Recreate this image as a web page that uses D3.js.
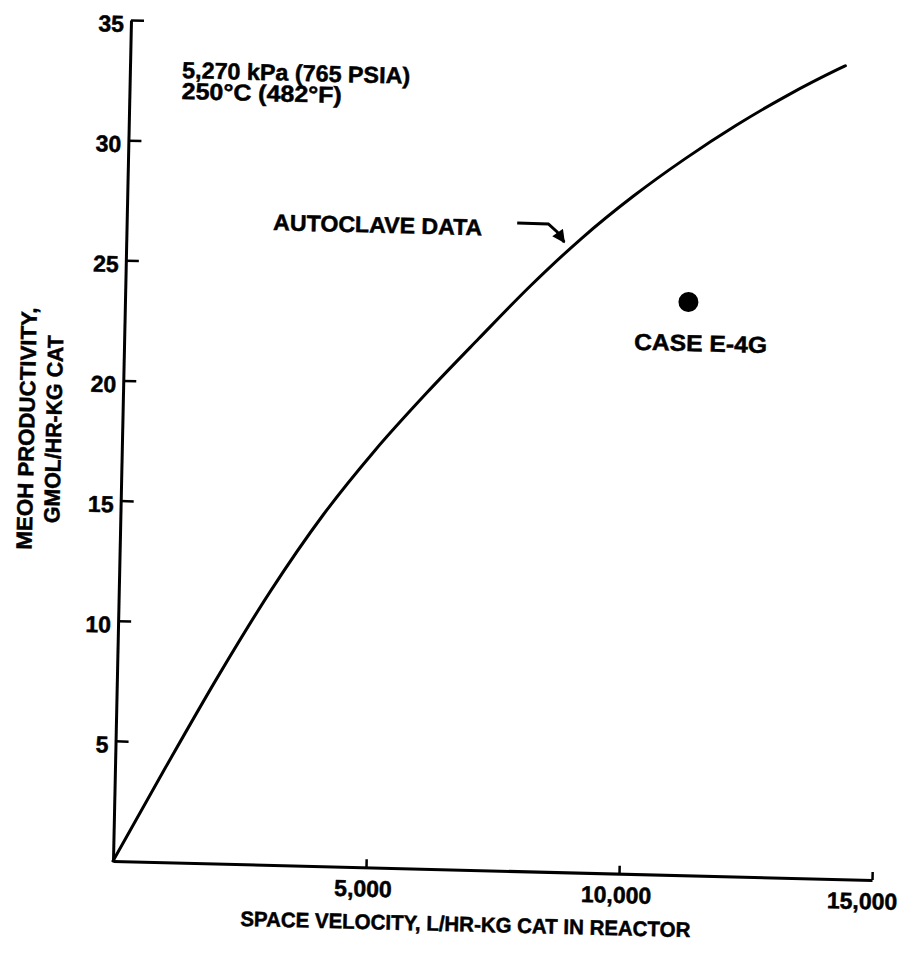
<!DOCTYPE html>
<html><head><meta charset="utf-8">
<script src="https://cdn.jsdelivr.net/npm/d3@7"></script>
<style>
body{margin:0;background:#fff;}
svg text{font-family:"Liberation Sans",Arial,Helvetica,sans-serif;font-weight:bold;fill:#000;stroke:#000;stroke-width:0.5px;}
</style></head><body>
<svg id="chart" width="900" height="962"></svg>
<script>
// ---- data ----
const curveX = [0, 1000, 2000, 3000, 4000, 5000, 6000, 7000, 8000, 9000, 10000, 11000, 12000, 13000, 14000, 14130];
const curveY = [0, 3.95, 7.8, 11.4, 14.6, 17.35, 19.8, 22.1, 24.35, 26.4, 28.2, 29.8, 31.25, 32.55, 33.7, 33.84];
const caseX = [11130];
const caseY = [23.85];
const caseLabel = ["CASE E-4G"];
const xTicks = [5000, 10000, 15000];
const yTicks = [5, 10, 15, 20, 25, 30, 35];
const conditionLines = ["5,270 kPa (765 PSIA)", "250°C (482°F)"];
const curveLabel = "AUTOCLAVE DATA";
const arrowX = [7714, 8330, 8508, 8651];
const arrowY = [26.96, 26.95, 26.63, 26.21];
const xTitle = "SPACE VELOCITY, L/HR-KG CAT IN REACTOR";
const yTitle = ["MEOH PRODUCTIVITY,", "GMOL/HR-KG CAT"];

// ---- layout ----
const W = 759, H = 841;
const x = d3.scaleLinear().domain([0, 15000]).range([0, W]);
const y = d3.scaleLinear().domain([0, 35]).range([0, -H]);

const svg = d3.select("#chart");
svg.append("rect").attr("width", 900).attr("height", 962).attr("fill", "#fff");
// slight skew as in the scanned original
const g = svg.append("g").attr("transform", "matrix(1,0.025,-0.0214,1,113,861)");

// y axis
const yAxis = g.append("g")
  .call(d3.axisLeft(y).tickValues(yTicks).tickSizeInner(-13).tickSizeOuter(0).tickPadding(7).tickFormat(d3.format("d")));
yAxis.attr("font-size", null).attr("font-family", null);
yAxis.select(".domain").attr("stroke", "#000").attr("stroke-width", 3);
yAxis.selectAll(".tick line").attr("stroke", "#000").attr("stroke-width", 2.5);
yAxis.selectAll(".tick text").attr("font-size", 23).attr("dy", "0.5em");

// x axis
const xAxis = g.append("g")
  .call(d3.axisBottom(x).tickValues(xTicks).tickSizeInner(-8).tickSizeOuter(0).tickPadding(13).tickFormat(d3.format(",")));
xAxis.attr("font-size", null).attr("font-family", null);
xAxis.select(".domain").attr("stroke", "#000").attr("stroke-width", 3);
xAxis.selectAll(".tick line").attr("stroke", "#000").attr("stroke-width", 2.5);
xAxis.selectAll(".tick text").attr("font-size", 23)
  .attr("dx", (d, i) => i === xTicks.length - 1 ? -10 : -3);

// curve
const pts = curveX.map((v, i) => [v, curveY[i]]);
g.append("path")
  .datum(pts)
  .attr("fill", "none")
  .attr("stroke", "#000")
  .attr("stroke-width", 3)
  .attr("stroke-linecap", "round")
  .attr("d", d3.line().x(d => x(d[0])).y(d => y(d[1])).curve(d3.curveMonotoneX));

// case point
const casePts = caseX.map((v, i) => ({x: v, y: caseY[i], label: caseLabel[i]}));
g.selectAll("circle.case").data(casePts).join("circle")
  .attr("class", "case")
  .attr("cx", d => x(d.x)).attr("cy", d => y(d.y)).attr("r", 10).attr("fill", "#000");
g.selectAll("text.case").data(casePts).join("text")
  .attr("class", "case")
  .attr("x", d => x(d.x) + 13).attr("y", d => y(d.y) + 49)
  .attr("text-anchor", "middle").attr("font-size", 23)
  .attr("textLength", 133).attr("lengthAdjust", "spacingAndGlyphs")
  .text(d => d.label);

// conditions
const condLens = [228, 160];
conditionLines.forEach((t, i) => {
  g.append("text").attr("font-size", 23)
    .attr("x", x(1032)).attr("y", y(32.64) + i * 21)
    .attr("textLength", condLens[i]).attr("lengthAdjust", "spacingAndGlyphs")
    .text(t);
});

// curve label + arrow
g.append("text").attr("x", x(2895)).attr("y", y(26.41)).attr("font-size", 22.5)
  .attr("textLength", 209).attr("lengthAdjust", "spacingAndGlyphs").text(curveLabel);
svg.append("defs").append("marker")
  .attr("id", "ah").attr("viewBox", "0 -5 10 10").attr("refX", 9).attr("refY", 0)
  .attr("markerUnits", "userSpaceOnUse").attr("markerWidth", 14).attr("markerHeight", 13)
  .attr("orient", "auto")
  .append("path").attr("d", "M0,-5L10,0L0,5Z").attr("fill", "#000");
g.append("path")
  .datum(arrowX.map((v, i) => [v, arrowY[i]]))
  .attr("fill", "none").attr("stroke", "#000").attr("stroke-width", 3)
  .attr("marker-end", "url(#ah)")
  .attr("d", d3.line().x(d => x(d[0])).y(d => y(d[1])));

// axis titles
g.append("text").attr("x", x(6986)).attr("y", 61.7).attr("text-anchor", "middle")
  .attr("font-size", 21).attr("textLength", 450).attr("lengthAdjust", "spacingAndGlyphs").text(xTitle);
const yLens = [242, 188];
const yOff = [-88, -61];
yTitle.forEach((t, i) => {
  g.append("text")
    .attr("transform", `translate(${yOff[i]},${y(17.9)}) rotate(-90)`)
    .attr("text-anchor", "middle").attr("font-size", 22)
    .attr("textLength", yLens[i]).attr("lengthAdjust", "spacingAndGlyphs")
    .text(t);
});
</script>
</body></html>
